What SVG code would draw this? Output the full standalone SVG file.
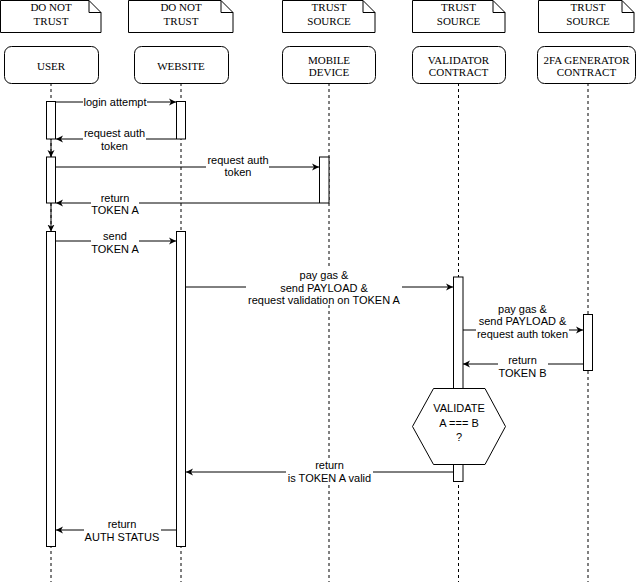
<svg xmlns="http://www.w3.org/2000/svg" width="640" height="585" viewBox="0 0 640 585">
<defs>
<style>
.note{fill:#fff;stroke:#000;stroke-width:1}
.fold{fill:none;stroke:#000;stroke-width:1}
.node{fill:#fff;stroke:#000;stroke-width:1}
.nt{font-family:"Liberation Serif","Times New Roman",serif;font-size:11px;fill:#000;text-anchor:middle}
.life{stroke:#000;stroke-width:1;stroke-dasharray:3 3;fill:none}
.act{fill:#fff;stroke:#000;stroke-width:1}
.msg{stroke:#000;stroke-width:1;fill:none;marker-end:url(#arr)}
.lbg{fill:#fff}
.lt{font-family:"Liberation Sans",Arial,sans-serif;font-size:11px;fill:#000;text-anchor:middle}
</style>
<marker id="arr" viewBox="0 0 8 8" refX="7" refY="4" markerWidth="8" markerHeight="8" markerUnits="userSpaceOnUse" orient="auto">
<path d="M0,0.5 L7,4 L0,7.5 L2,4 z" fill="#000"/>
</marker>
</defs>
<rect width="640" height="585" fill="#fff"/>

<g id="notes">
<g id="note-user"><path class="note" d="M0.5,0.5 H89 L101,12.5 V32.5 H0.5 Z"/><path class="fold" d="M89,0.5 V12.5 H101"/><text class="nt" x="51" y="11">DO NOT</text><text class="nt" x="51" y="24.5">TRUST</text></g>
<g id="note-website"><path class="note" d="M128.5,0.5 H221 L233,12.5 V32.5 H128.5 Z"/><path class="fold" d="M221,0.5 V12.5 H233"/><text class="nt" x="181" y="11">DO NOT</text><text class="nt" x="181" y="24.5">TRUST</text></g>
<g id="note-mobile"><path class="note" d="M282.5,0.5 H363 L375,12.5 V32.5 H282.5 Z"/><path class="fold" d="M363,0.5 V12.5 H375"/><text class="nt" x="329" y="11">TRUST</text><text class="nt" x="329" y="24.5">SOURCE</text></g>
<g id="note-validator"><path class="note" d="M412.5,0.5 H493 L505,12.5 V32.5 H412.5 Z"/><path class="fold" d="M493,0.5 V12.5 H505"/><text class="nt" x="458.5" y="11">TRUST</text><text class="nt" x="458.5" y="24.5">SOURCE</text></g>
<g id="note-2fa"><path class="note" d="M538.5,0.5 H622 L634,12.5 V32.5 H538.5 Z"/><path class="fold" d="M622,0.5 V12.5 H634"/><text class="nt" x="588" y="11">TRUST</text><text class="nt" x="588" y="24.5">SOURCE</text></g>
</g>

<g id="lifelines">
<line class="life" x1="51" y1="83" x2="51" y2="582"/>
<line class="life" x1="181" y1="83" x2="181" y2="582"/>
<line class="life" x1="329" y1="83" x2="329" y2="582"/>
<line class="life" x1="458.5" y1="83" x2="458.5" y2="582"/>
<line class="life" x1="588" y1="83" x2="588" y2="582"/>
</g>

<g id="user"><rect class="node" x="4.5" y="46.5" width="94" height="37" rx="7"/><text class="nt" x="51" y="69.7">USER</text></g>
<g id="website"><rect class="node" x="134.5" y="46.5" width="94" height="37" rx="7"/><text class="nt" x="181" y="69.7">WEBSITE</text></g>
<g id="mobile"><rect class="node" x="282.5" y="46.5" width="93" height="37" rx="7"/><text class="nt" x="329" y="63.7">MOBILE</text><text class="nt" x="329" y="75.5">DEVICE</text></g>
<g id="validator"><rect class="node" x="412.5" y="46.5" width="93" height="37" rx="7"/><text class="nt" x="458.5" y="63.7">VALIDATOR</text><text class="nt" x="458.5" y="75.5">CONTRACT</text></g>
<g id="twofa"><rect class="node" x="537.5" y="46.5" width="98" height="37" rx="7"/><text class="nt" x="586.5" y="63.7">2FA GENERATOR</text><text class="nt" x="586.5" y="75.5">CONTRACT</text></g>

<g id="activations">
<rect class="act" x="46.5" y="101.5" width="9" height="37.5"/>
<rect class="act" x="46.5" y="157" width="9" height="46"/>
<rect class="act" x="46.5" y="231.5" width="9" height="315"/>
<rect class="act" x="176.5" y="101.5" width="9" height="37.5"/>
<rect class="act" x="176.5" y="231.5" width="9" height="315"/>
<rect class="act" x="319.5" y="157" width="9.5" height="46"/>
<rect class="act" x="453.5" y="277" width="9.5" height="204.5"/>
<rect class="act" x="583.5" y="314.5" width="9" height="56"/>
</g>

<g id="validate-check">
<polygon class="node" points="412.5,426.5 433.5,388.5 485,388.5 505.5,426.5 485,464.5 433.5,464.5"/>
<text class="lt" x="459" y="412">VALIDATE</text>
<text class="lt" x="459" y="426.5">A === B</text>
<text class="lt" x="459" y="440.5">?</text>
</g>

<g id="connectors">
<line class="msg" x1="51" y1="139" x2="51" y2="157"/>
<line class="msg" x1="51" y1="203" x2="51" y2="231.5"/>

<line class="msg" x1="56" y1="102" x2="176" y2="102"/>
<rect class="lbg" x="83" y="96" width="64" height="12"/>
<text class="lt" x="115" y="106">login attempt</text>

<line class="msg" x1="176" y1="139" x2="56" y2="139"/>
<rect class="lbg" x="83" y="127" width="63" height="24"/>
<text class="lt" x="114.5" y="137">request auth</text>
<text class="lt" x="114.5" y="149.5">token</text>

<line class="msg" x1="56" y1="167" x2="319" y2="167"/>
<rect class="lbg" x="206" y="154" width="63" height="24"/>
<text class="lt" x="238" y="164">request auth</text>
<text class="lt" x="238" y="176">token</text>

<line class="msg" x1="319" y1="203" x2="56" y2="203"/>
<rect class="lbg" x="91" y="191" width="48" height="24"/>
<text class="lt" x="115" y="201.5">return</text>
<text class="lt" x="115" y="213.5">TOKEN A</text>

<line class="msg" x1="56" y1="241" x2="176" y2="241"/>
<rect class="lbg" x="91" y="229" width="48" height="24"/>
<text class="lt" x="115" y="239.5">send</text>
<text class="lt" x="115" y="252.5">TOKEN A</text>

<line class="msg" x1="186" y1="287" x2="453" y2="287"/>
<rect class="lbg" x="246" y="268" width="156" height="37"/>
<text class="lt" x="324" y="279">pay gas &amp;</text>
<text class="lt" x="324" y="291.5">send PAYLOAD &amp;</text>
<text class="lt" x="324" y="304">request validation on TOKEN A</text>

<line class="msg" x1="463" y1="330" x2="583" y2="330"/>
<rect class="lbg" x="476" y="302" width="93" height="36"/>
<text class="lt" x="522.5" y="312.5">pay gas &amp;</text>
<text class="lt" x="522.5" y="325">send PAYLOAD &amp;</text>
<text class="lt" x="522.5" y="337.5">request auth token</text>

<line class="msg" x1="583" y1="364" x2="463" y2="364"/>
<rect class="lbg" x="498" y="354" width="50" height="24"/>
<text class="lt" x="522.5" y="364">return</text>
<text class="lt" x="522.5" y="376.5">TOKEN B</text>

<line class="msg" x1="453" y1="472" x2="186" y2="472"/>
<rect class="lbg" x="286" y="459" width="87" height="24"/>
<text class="lt" x="329.5" y="469">return</text>
<text class="lt" x="329.5" y="482">is TOKEN A valid</text>

<line class="msg" x1="176" y1="530" x2="56" y2="530"/>
<rect class="lbg" x="84" y="518" width="77" height="24"/>
<text class="lt" x="122" y="528">return</text>
<text class="lt" x="122" y="541">AUTH STATUS</text>
</g>
</svg>
